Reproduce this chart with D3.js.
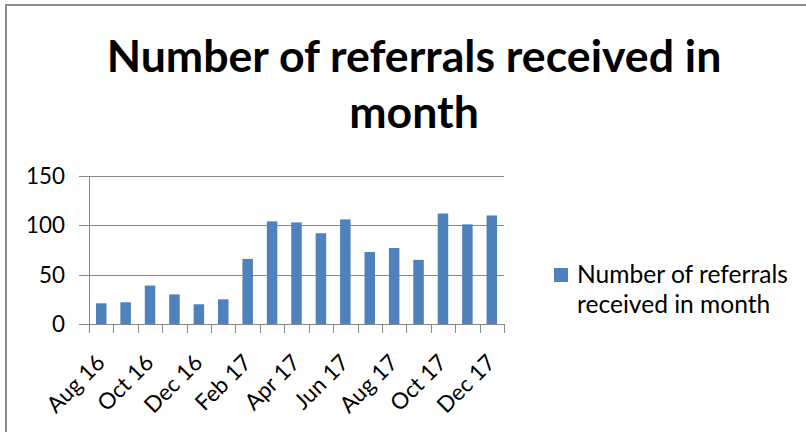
<!DOCTYPE html>
<html>
<head>
<meta charset="utf-8">
<script src="https://cdn.jsdelivr.net/npm/d3@7"></script>
<style>
  body { margin: 0; background: #fff; }
  svg { display: block; font-family: Lato, "Open Sans", sans-serif; }
</style>
</head>
<body>
<div id="chart"></div>
<script>
// chart data
const months = ["Aug 16", "Sep 16", "Oct 16", "Nov 16", "Dec 16", "Jan 17", "Feb 17", "Mar 17",
                "Apr 17", "May 17", "Jun 17", "Jul 17", "Aug 17", "Sep 17", "Oct 17", "Nov 17", "Dec 17"];
const referrals = [21, 22, 39, 30, 20, 25, 66, 104, 103, 92, 106, 73, 77, 65, 112, 101, 110];
const yTicks = [0, 50, 100, 150];
const titleLines = ["Number of referrals received in", "month"];
const legendLines = ["Number of referrals", "received in month"];

const width = 806, height = 432;
const barColor = "#4F81BD";
const gridColor = "#888888";

const svg = d3.select("#chart").append("svg")
    .attr("width", width)
    .attr("height", height);

// scale a group of texts so that the first one is `target` px wide
function fitText(sel, base, target) {
    const w = sel.node().getComputedTextLength();
    sel.attr("font-size", base * target / w);
}

// outer frame (only top and left visible in the crop)
svg.append("rect")
    .attr("x", 6).attr("y", 5)
    .attr("width", width + 10).attr("height", height + 10)
    .attr("fill", "white")
    .attr("stroke", "#8a8a8a")
    .attr("stroke-width", 2);

// title
const titleY = [72, 128];
const title = svg.append("g")
    .selectAll("text")
    .data(titleLines)
    .join("text")
    .attr("x", 414)
    .attr("y", (d, i) => titleY[i])
    .attr("text-anchor", "middle")
    .attr("font-size", 40)
    .attr("font-weight", "bold")
    .attr("fill", "#000")
    .text(d => d);
fitText(title, 40, 615);

// scales
const x = d3.scaleBand()
    .domain(months)
    .range([89, 504])
    .paddingInner(0.57)
    .paddingOuter(0.285);

const y = d3.scaleLinear()
    .domain([0, 150])
    .range([324, 176]);

// gridlines (start a bit left of the axis = tick marks)
svg.append("g")
    .selectAll("line")
    .data(yTicks)
    .join("line")
    .attr("x1", 79)
    .attr("x2", 504)
    .attr("y1", d => Math.round(y(d)) + 0.5)
    .attr("y2", d => Math.round(y(d)) + 0.5)
    .attr("stroke", gridColor)
    .attr("stroke-width", 1);

// y axis line
svg.append("line")
    .attr("x1", 89.5).attr("x2", 89.5)
    .attr("y1", y(150)).attr("y2", y(0) + 9)
    .attr("stroke", gridColor);

// y tick labels
const yLabels = svg.append("g")
    .selectAll("text")
    .data(yTicks.slice().reverse())
    .join("text")
    .attr("x", 65)
    .attr("y", d => y(d))
    .attr("dy", "0.36em")
    .attr("text-anchor", "end")
    .attr("font-size", 21)
    .attr("fill", "#000")
    .text(d => d);
fitText(yLabels, 21, 39);

// x tick marks at category boundaries
const step = x.step();
const x0 = x.range()[0];
svg.append("g")
    .selectAll("line")
    .data(d3.range(months.length + 1))
    .join("line")
    .attr("x1", i => Math.round(x0 + i * step) + 0.5)
    .attr("x2", i => Math.round(x0 + i * step) + 0.5)
    .attr("y1", y(0))
    .attr("y2", y(0) + 9)
    .attr("stroke", gridColor);

// bars
svg.append("g")
    .selectAll("rect")
    .data(months)
    .join("rect")
    .attr("x", d => x(d))
    .attr("width", x.bandwidth())
    .attr("y", (d, i) => y(referrals[i]))
    .attr("height", (d, i) => y(0) - y(referrals[i]))
    .attr("fill", barColor);

// x labels (every other month), rotated
const xLabels = svg.append("g")
    .selectAll("text")
    .data(months.filter((d, i) => i % 2 === 0))
    .join("text")
    .attr("transform", d => `translate(${x(d) + x.bandwidth() / 2 + 5},${y(0) + 40}) rotate(-45)`)
    .attr("text-anchor", "end")
    .attr("font-size", 21)
    .attr("fill", "#000")
    .text(d => d);
fitText(xLabels, 21, 71);

// legend
const legend = svg.append("g");
legend.append("rect")
    .attr("x", 554).attr("y", 268)
    .attr("width", 14).attr("height", 14)
    .attr("fill", barColor);
const legendText = legend.selectAll("text")
    .data(legendLines)
    .join("text")
    .attr("x", 577)
    .attr("y", (d, i) => 283 + i * 30)
    .attr("font-size", 21)
    .attr("fill", "#000")
    .text(d => d);
fitText(legendText, 21, 211);
</script>
</body>
</html>
